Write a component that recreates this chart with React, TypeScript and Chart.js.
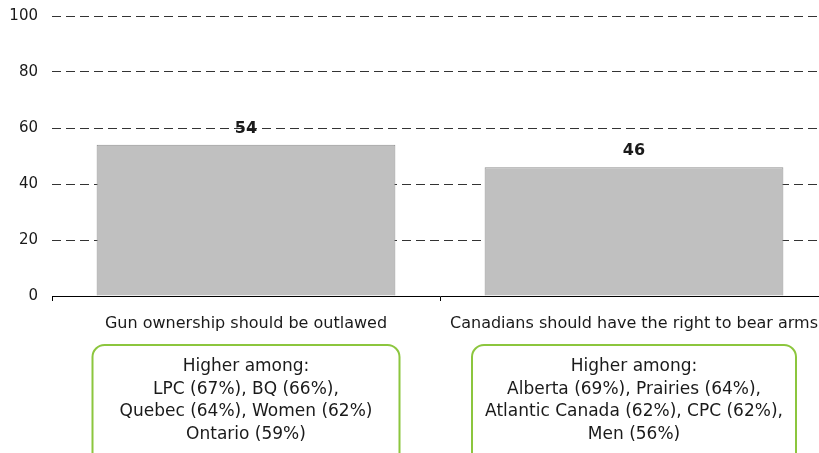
import React, { useEffect, useRef } from "react";
import { Chart, registerables } from "chart.js";

Chart.register(...registerables);

const categories = ["Gun ownership should be outlawed", "Canadians should have the right to bear arms"];
const values = [54, 46];
const yTicks = [0, 20, 40, 60, 80, 100];
const boxLines = [
  ["Higher among:", "LPC (67%), BQ (66%),", "Quebec (64%), Women (62%)", "Ontario (59%)"],
  ["Higher among:", "Alberta (69%), Prairies (64%),", "Atlantic Canada (62%), CPC (62%),", "Men (56%)"],
];
const boxWidths = [307, 324];

const FONT = "'DejaVu Sans', sans-serif";
const TEXT = "#1a1a1a";

const overlayPlugin = {
  id: "overlay",
  afterDatasetsDraw(chart: any) {
    const ctx = chart.ctx;
    const meta = chart.getDatasetMeta(0);
    ctx.save();
    ctx.font = `bold 16px ${FONT}`;
    ctx.fillStyle = TEXT;
    ctx.textAlign = "center";
    ctx.textBaseline = "middle";
    meta.data.forEach((bar: any, i: number) => {
      ctx.fillText(String(values[i]), bar.x, bar.y - 16);
    });
    ctx.restore();
  },
  afterDraw(chart: any) {
    const ctx = chart.ctx;
    const xs = chart.scales.x;
    ctx.save();
    boxLines.forEach((lines, i) => {
      const cx = xs.getPixelForValue(i);
      const w = boxWidths[i];
      const x0 = cx - w / 2;
      const y0 = 345;
      const h = 130;
      ctx.beginPath();
      ctx.roundRect(x0, y0, w, h, 12);
      ctx.lineWidth = 2;
      ctx.strokeStyle = "#8cc63e";
      ctx.stroke();
      ctx.font = `17px ${FONT}`;
      ctx.fillStyle = TEXT;
      ctx.textAlign = "center";
      ctx.textBaseline = "middle";
      lines.forEach((ln, j) => {
        ctx.fillText(ln, cx, 367 + j * 22.5);
      });
    });
    ctx.restore();
  },
};

export default function App() {
  const ref = useRef<HTMLCanvasElement>(null);
  useEffect(() => {
    const chart = new Chart(ref.current!, {
      type: "bar",
      data: {
        labels: categories,
        datasets: [
          {
            data: values,
            backgroundColor: "#c0c0c0",
            borderColor: "#909090",
            borderWidth: 1,
            barPercentage: 0.77,
            categoryPercentage: 1,
          },
        ],
      },
      options: {
        responsive: false,
        animation: false,
        devicePixelRatio: 1,
        layout: { padding: { top: 16, right: 0, left: 0, bottom: 0 } },
        plugins: { legend: { display: false }, tooltip: { enabled: false } },
        scales: {
          x: {
            offset: true,
            grid: { drawOnChartArea: false, drawTicks: true, tickLength: 5, color: "#000" },
            border: { display: true, color: "#000", width: 1 },
            ticks: { color: TEXT, font: { family: FONT, size: 16 }, padding: 13, maxRotation: 0, autoSkip: false },
            afterFit: (s: any) => {
              s.height = 157;
            },
          },
          y: {
            min: 0,
            max: 100,
            afterBuildTicks: (s: any) => {
              s.ticks = yTicks.map((v) => ({ value: v }));
            },
            grid: {
              drawTicks: true,
              tickLength: 13,
              tickColor: "rgba(0,0,0,0)",
              color: (c: any) => (c.tick && c.tick.value === 0 ? "rgba(0,0,0,0)" : "#333"),
              lineWidth: 1,
            },
            border: { display: false, dash: [9, 5] },
            ticks: { color: TEXT, font: { family: FONT, size: 15 }, padding: 1 },
            afterFit: (s: any) => {
              s.width = 52;
            },
          },
        },
      },
      plugins: [overlayPlugin],
    });
    return () => chart.destroy();
  }, []);
  return (
    <div style={{ position: "fixed", left: 0, top: 0, width: 819, height: 453, overflow: "hidden", background: "#fff" }}>
      <canvas ref={ref} width={831} height={453} style={{ width: 831, height: 453, display: "block" }} />
    </div>
  );
}
